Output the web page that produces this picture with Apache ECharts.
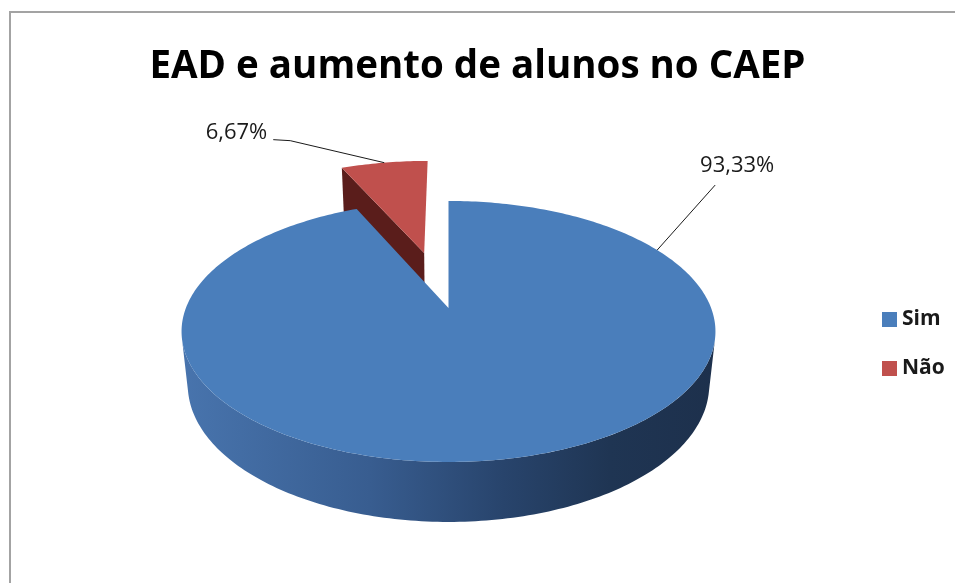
<!DOCTYPE html>
<html>
<head>
<meta charset="utf-8">
<script src="https://cdn.jsdelivr.net/npm/echarts@6/dist/echarts.min.js"></script>
<style>
  html, body { margin: 0; padding: 0; background: #ffffff; }
  #chart { width: 955px; height: 583px; }
</style>
</head>
<body>
<div id="chart"></div>
<script>
// Chart content
const chartTitle = 'EAD e aumento de alunos no CAEP';
const categories = ['Sim', 'Não'];
const percentages = [93.33, 6.67];

// Slice styling
const topColors = ['#4a7ebb', '#c0504d'];
const sideStops = [
  [[0, '#4874ad'], [0.35, '#385d90'], [0.6, '#28446c'], [0.8, '#1f3553'], [1, '#1d304c']],
  [[0, '#8f3a38'], [1, '#5a1c1a']]
];
const cutColors = ['#2a4670', '#5a1d1b'];
const explodeBy = [0, 0.483];

// Label leader layout: rim angle of the anchor (null = mid angle), bends, text offset
const labelLayout = [
  { angle: 60, bends: [[58, -65]], text: [22, -8], align: 'center', vAlign: 'bottom' },
  { angle: null, bends: [[-94, -22], [-111, -23]], text: [-6, -7], align: 'right', vAlign: 'middle' }
];

const FONT = '"Open Sans", "Noto Sans", sans-serif';

// Perspective view of the disk (radius 1)
const RAD = Math.PI / 180;
const TILT = 28.75 * RAD;
const DIST = 4.878;
const FOCAL = 1281;
const CX = 448.5, CY = 308;
const DEPTH = 0.235;
const SA = Math.sin(TILT), CA = Math.cos(TILT);
const CAM = [0, -DIST * CA, DIST * SA];

function project(x, y, z) {
  const vx = x - CAM[0], vy = y - CAM[1], vz = z - CAM[2];
  const Y = vy * SA + vz * CA;
  const D = vy * CA - vz * SA;
  return [CX + FOCAL * vx / D, CY - FOCAL * Y / D];
}
function rim(ox, oy, a, z) {
  return project(ox + Math.sin(a * RAD), oy + Math.cos(a * RAD), z);
}
function arc(ox, oy, a0, a1, z) {
  const n = Math.max(2, Math.ceil(Math.abs(a1 - a0)));
  const pts = [];
  for (let k = 0; k <= n; k++) pts.push(rim(ox, oy, a0 + (a1 - a0) * k / n, z));
  return pts;
}
function facesCamera(nx, ny, px, py) {
  return nx * (CAM[0] - px) + ny * (CAM[1] - py) > 0;
}
function polygonArea(pts) {
  let s = 0;
  for (let k = 0; k < pts.length; k++) {
    const p = pts[k], q = pts[(k + 1) % pts.length];
    s += p[0] * q[1] - q[0] * p[1];
  }
  return Math.abs(s) / 2;
}

const total = percentages.reduce((s, v) => s + v, 0);
const startAngles = [];
percentages.reduce((acc, v, i) => { startAngles[i] = acc / total * 360; return acc + v; }, 0);

// Horizontal extent of the disk, for side shading
const sideLeft = 183, sideRight = 717;

function renderItem(params, api) {
  const i = params.dataIndex;
  const value = api.value(0);
  const a0 = startAngles[i];
  const a1 = a0 + value / total * 360;
  const mid = (a0 + a1) / 2;
  const ox = explodeBy[i] * Math.sin(mid * RAD);
  const oy = explodeBy[i] * Math.cos(mid * RAD);
  const base = Math.round(-Math.cos(mid * RAD) * 100) * 10;
  const children = [];

  // cut faces (nearly edge-on ones are left out)
  const faces = [
    { a: a0, n: [-Math.cos(a0 * RAD), Math.sin(a0 * RAD)] },
    { a: a1, n: [Math.cos(a1 * RAD), -Math.sin(a1 * RAD)] }
  ];
  faces.forEach(f => {
    if (!facesCamera(f.n[0], f.n[1], ox, oy)) return;
    const pts = [project(ox, oy, 0), rim(ox, oy, f.a, 0), rim(ox, oy, f.a, -DEPTH), project(ox, oy, -DEPTH)];
    if (polygonArea(pts) < 300) return;
    children.push({
      type: 'polygon', z2: base + 1,
      shape: { points: pts },
      style: { fill: cutColors[i] }
    });
  });

  // outer side, only the parts turned toward the viewer
  const runs = [];
  let cur = null;
  const step = 0.5;
  for (let a = a0; a <= a1 + 1e-9; a += step) {
    const aa = Math.min(a, a1);
    const px = ox + Math.sin(aa * RAD), py = oy + Math.cos(aa * RAD);
    const vis = facesCamera(Math.sin(aa * RAD), Math.cos(aa * RAD), px, py);
    if (vis) { if (!cur) { cur = [aa, aa]; runs.push(cur); } else cur[1] = aa; }
    else cur = null;
  }
  const gradient = new echarts.graphic.LinearGradient(sideLeft, 0, sideRight, 0,
    sideStops[i].map(s => ({ offset: s[0], color: s[1] })), true);
  runs.forEach(r => {
    if (r[1] - r[0] < 0.01) return;
    const topPts = arc(ox, oy, r[0], r[1], 0);
    const botPts = arc(ox, oy, r[0], r[1], -DEPTH).reverse();
    children.push({
      type: 'polygon', z2: base + 2,
      shape: { points: topPts.concat(botPts) },
      style: { fill: gradient }
    });
  });

  // top face
  children.push({
    type: 'polygon', z2: base + 3,
    shape: { points: [project(ox, oy, 0)].concat(arc(ox, oy, a0, a1, 0)) },
    style: { fill: topColors[i] }
  });

  // data label with leader
  const lay = labelLayout[i];
  const anchor = rim(ox, oy, lay.angle === null ? mid : lay.angle, 0);
  const line = [anchor].concat(lay.bends.map(b => [anchor[0] + b[0], anchor[1] + b[1]]));
  const end = line[line.length - 1];
  children.push({
    type: 'polyline', z2: 5000,
    shape: { points: line },
    style: { stroke: '#1a1a1a', lineWidth: 1, fill: null }
  });
  children.push({
    type: 'text', z2: 5001,
    style: {
      text: value.toFixed(2).replace('.', ',') + '%',
      x: end[0] + lay.text[0], y: end[1] + lay.text[1],
      align: lay.align, verticalAlign: lay.vAlign,
      fill: '#1a1a1a', fontSize: 22, fontFamily: FONT
    }
  });

  return { type: 'group', children: children };
}

const chart = echarts.init(document.getElementById('chart'), null, { renderer: 'canvas' });
chart.setOption({
  animation: false,
  backgroundColor: '#ffffff',
  title: {
    text: chartTitle,
    left: 'center',
    top: 43,
    textStyle: { fontFamily: FONT, fontWeight: 'bold', fontSize: 38.5, color: '#000000' }
  },
  legend: {
    orient: 'vertical',
    left: 877,
    top: 304,
    icon: 'rect',
    itemWidth: 15,
    itemHeight: 15,
    itemGap: 28,
    data: categories,
    textStyle: { fontFamily: FONT, fontSize: 21, fontWeight: 'bold', color: '#1a1a1a' }
  },
  graphic: [{
    type: 'rect',
    shape: { x: 10, y: 12, width: 1000, height: 1000 },
    style: { fill: null, stroke: '#a3a3a3', lineWidth: 2 },
    silent: true
  }],
  series: [
    {
      type: 'custom',
      coordinateSystem: 'none',
      silent: true,
      renderItem: renderItem,
      data: percentages.map(v => [v])
    },
    {
      // feeds the legend with the category names and colours
      type: 'pie',
      silent: true,
      radius: 0,
      center: [-50, -50],
      label: { show: false },
      labelLine: { show: false },
      data: categories.map((name, i) => ({ name: name, value: percentages[i], itemStyle: { color: topColors[i] } }))
    }
  ]
});
</script>
</body>
</html>
